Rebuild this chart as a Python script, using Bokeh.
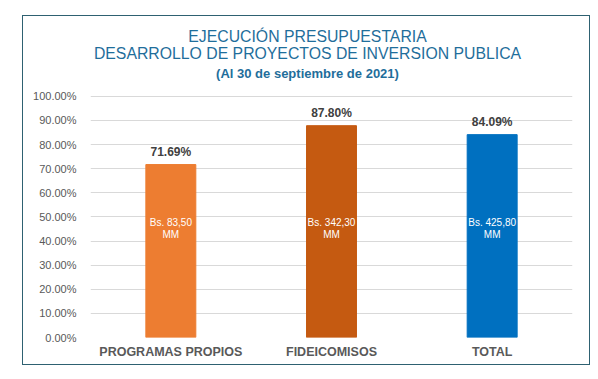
from bokeh.plotting import figure
from bokeh.models import ColumnDataSource, Range1d, NumeralTickFormatter, Label, FactorRange
from bokeh.core.properties import value
from bokeh.embed import file_html
from bokeh.resources import INLINE

categories = ["PROGRAMAS PROPIOS", "FIDEICOMISOS", "TOTAL"]
values = [0.7169, 0.8780, 0.8409]
value_labels = ["71.69%", "87.80%", "84.09%"]
inner_labels = ["Bs. 83,50\nMM", "Bs. 342,30\nMM", "Bs. 425,80\nMM"]
colors = ["#ED7D31", "#C55A11", "#0070C0"]
title_lines = ["EJECUCIÓN PRESUPUESTARIA",
               "DESARROLLO DE PROYECTOS DE INVERSION PUBLICA",
               "(Al 30 de septiembre de 2021)"]

FONT = "Liberation Sans"
src = ColumnDataSource(dict(cat=categories, val=values, vlab=value_labels,
                            ilab=inner_labels, col=colors,
                            mid=[0.4525] * len(categories)))

# frame spans the full height above the axis; 0..100% occupies 242px, leaving 80px for titles
p = figure(x_range=FactorRange(*categories, range_padding=0), y_range=Range1d(0, 1 + 80 / 242),
           width=568, height=350, output_backend="svg", toolbar_location=None,
           min_border_left=67, min_border_right=19, min_border_bottom=29, min_border_top=0)
p.margin = (15, 0, 0, 22)
p.styles = {"border": "1.5px solid #2e6171"}

p.vbar(x="cat", top="val", width=0.311, color="col", source=src)
p.text(x="cat", y="val", text="vlab", source=src, text_align="center", text_baseline="bottom",
       y_offset=-6, text_font=value(FONT), text_font_size="12px", text_font_style="bold",
       text_color="#404040")
p.text(x="cat", y="mid", text="ilab", source=src, text_align="center", text_baseline="middle",
       text_font=value(FONT), text_font_size="10px", text_color="white", text_line_height=1.15)

for txt, size, style, off in zip(title_lines, ["15.8px", "15.8px", "13px"],
                                 ["normal", "normal", "bold"], [60, 43, 23]):
    p.add_layout(Label(x=1.5, y=1.0, x_offset=-24, y_offset=off, text=txt,
                       text_align="center", text_baseline="middle", text_font=FONT,
                       text_font_size=size, text_font_style=style, text_color="#1f6e9b"))

p.yaxis.ticker = [i / 10 for i in range(11)]
p.yaxis.formatter = NumeralTickFormatter(format="0.00%")
p.yaxis.major_label_text_font = FONT
p.yaxis.major_label_text_font_size = "11px"
p.yaxis.major_label_text_color = "#595959"
p.yaxis.major_label_standoff = 8
p.xaxis.major_label_text_font = FONT
p.xaxis.major_label_text_font_size = "12.5px"
p.xaxis.major_label_text_font_style = "bold"
p.xaxis.major_label_text_color = "#595959"
p.xaxis.major_label_standoff = 1
for ax in (p.xaxis, p.yaxis):
    ax.axis_line_color = None
    ax.major_tick_line_color = None
    ax.minor_tick_line_color = None
p.xgrid.grid_line_color = None
p.ygrid.grid_line_color = "#d9d9d9"
p.outline_line_color = None

open("out.html", "w").write(file_html(p, INLINE))
